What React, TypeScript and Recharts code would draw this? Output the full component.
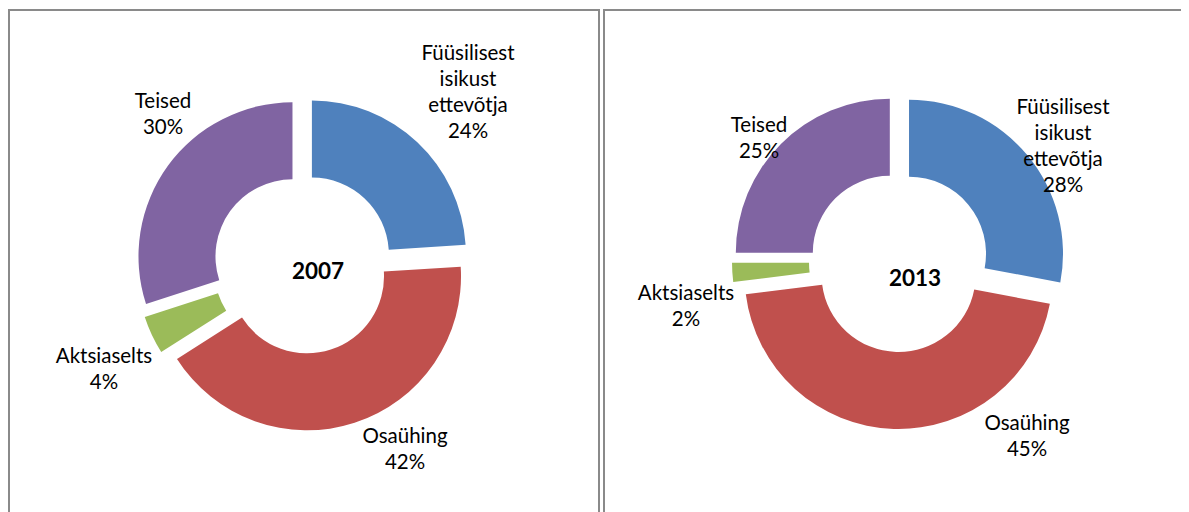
import { PieChart, Pie, Cell, Sector } from "recharts";

const categories = ["Füüsilisest isikust ettevõtja", "Osaühing", "Aktsiaselts", "Teised"];
const labelLines = [["Füüsilisest", "isikust", "ettevõtja"], ["Osaühing"], ["Aktsiaselts"], ["Teised"]];
const values2007 = [24, 42, 4, 30];
const values2013 = [28, 45, 2, 25];
const colors = ["#4F81BD", "#C0504D", "#9BBB59", "#8064A2"];

const FONT = "Lato, 'Open Sans', sans-serif";
const EXPLODE = 13;
const LINE_H = 26;

// label block centres, relative to the doughnut centre
const labelOffsets2007 = [[165, -173], [102, 184], [-199, 104], [-140, -151]];
const labelOffsets2013 = [[164, -117], [128, 173], [-213, 43], [-140, -125]];

const toData = (values: number[]) => categories.map((name, i) => ({ name, value: values[i] }));

const ExplodedSector = (props: any) => {
  const RAD = Math.PI / 180;
  const { cx, cy, midAngle } = props;
  const dx = EXPLODE * Math.cos(-midAngle * RAD);
  const dy = EXPLODE * Math.sin(-midAngle * RAD);
  return <Sector {...props} cx={cx + dx} cy={cy + dy} stroke="none" />;
};

function Donut({ values, year, offsets, cx, cy, yearDx, yearDy }: {
  values: number[]; year: string; offsets: number[][]; cx: number; cy: number; yearDx: number; yearDy: number;
}) {
  const data = toData(values);

  const renderLabel = (p: any) => {
    const lines = [...labelLines[p.index], `${values[p.index]}%`];
    const x = p.cx + offsets[p.index][0];
    const y0 = p.cy + offsets[p.index][1] - ((lines.length - 1) * LINE_H) / 2;
    return (
      <text x={x} y={y0} textAnchor="middle" dominantBaseline="central" fill="#000" fontSize={20.5} fontFamily={FONT}>
        {lines.map((l, k) => (
          <tspan key={k} x={x} y={y0 + k * LINE_H}>{l}</tspan>
        ))}
      </text>
    );
  };

  return (
    <PieChart width={588} height={510} margin={{ top: 0, right: 0, bottom: 0, left: 0 }}>
      <Pie
        data={data}
        dataKey="value"
        nameKey="name"
        cx={cx}
        cy={cy}
        innerRadius={77}
        outerRadius={154}
        startAngle={90}
        endAngle={-270}
        stroke="none"
        shape={ExplodedSector}
        label={renderLabel}
        labelLine={false}
        isAnimationActive={false}
      >
        {data.map((d, i) => (
          <Cell key={d.name} fill={colors[i]} />
        ))}
      </Pie>
      <text x={cx + yearDx} y={cy + yearDy} textAnchor="middle" dominantBaseline="central" fontSize={22.5} fontWeight="bold" fontFamily={FONT} fill="#000">
        {year}
      </text>
    </PieChart>
  );
}

const panelStyle: React.CSSProperties = {
  width: 592,
  height: 530,
  border: "2px solid #8a8a8a",
  boxSizing: "border-box",
  background: "#fff",
  flex: "none",
};

export default function App() {
  return (
    <div style={{ display: "flex", gap: 3, marginTop: 1, height: 503, overflow: "hidden" }}>
      <div style={panelStyle}>
        <Donut values={values2007} year="2007" offsets={labelOffsets2007} cx={293} cy={253} yearDx={15} yearDy={6} />
      </div>
      <div style={panelStyle}>
        <Donut values={values2013} year="2013" offsets={labelOffsets2013} cx={294} cy={251} yearDx={16} yearDy={15} />
      </div>
    </div>
  );
}
